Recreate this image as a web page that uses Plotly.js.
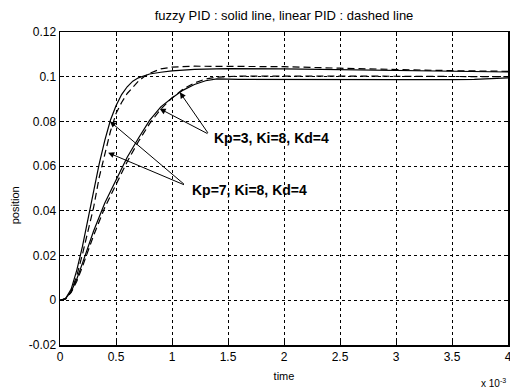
<!DOCTYPE html>
<html>
<head>
<meta charset="utf-8">
<script src="https://cdn.plot.ly/plotly-3.0.1.min.js"></script>
<style>html,body{margin:0;padding:0;background:#fff;}#chart{width:510px;height:390px;}</style>
</head>
<body>
<div id="chart"></div>
<script>
// time in units of 1e-3 s
const fastSolidT = [0, 0.05, 0.1, 0.15, 0.2, 0.25, 0.3, 0.35, 0.4, 0.45, 0.5, 0.55, 0.6, 0.65, 0.7, 0.75, 0.8, 0.9, 1.0, 1.2, 1.5, 2.0, 2.5, 3.0, 3.5, 4.0];
const fastSolidV = [0, 0.0008, 0.005, 0.0135, 0.024, 0.0365, 0.0485, 0.061, 0.0715, 0.0805, 0.087, 0.092, 0.0955, 0.098, 0.0995, 0.1005, 0.1012, 0.102, 0.1026, 0.1033, 0.1036, 0.1035, 0.1032, 0.1028, 0.1024, 0.1021];

const fastDashT = [0, 0.05, 0.1, 0.15, 0.2, 0.25, 0.3, 0.35, 0.4, 0.45, 0.5, 0.55, 0.6, 0.65, 0.7, 0.75, 0.8, 0.9, 1.0, 1.2, 1.5, 2.0, 2.5, 3.0, 3.5, 4.0];
const fastDashV = [0, 0.0006, 0.004, 0.011, 0.0205, 0.031, 0.0415, 0.055, 0.066, 0.0755, 0.0835, 0.0885, 0.0925, 0.0955, 0.098, 0.1, 0.1015, 0.1035, 0.1043, 0.1047, 0.1047, 0.1045, 0.1038, 0.1032, 0.1027, 0.1024];

const slowSolidT = [0, 0.05, 0.1, 0.15, 0.2, 0.3, 0.4, 0.5, 0.6, 0.7, 0.8, 0.9, 1.0, 1.1, 1.2, 1.3, 1.4, 1.6, 2.0, 2.5, 3.0, 3.5, 3.7, 4.0];
const slowSolidV = [0, 0.0008, 0.004, 0.0095, 0.0165, 0.031, 0.0435, 0.054, 0.064, 0.0725, 0.0805, 0.0865, 0.0905, 0.094, 0.0965, 0.0982, 0.099, 0.0988, 0.0987, 0.0987, 0.0987, 0.0987, 0.0988, 0.0995];

const slowDashT = [0, 0.05, 0.1, 0.15, 0.2, 0.3, 0.4, 0.5, 0.6, 0.7, 0.8, 0.9, 1.0, 1.1, 1.2, 1.3, 1.4, 1.6, 2.0, 2.5, 3.0, 3.5, 4.0];
const slowDashV = [0, 0.0006, 0.0035, 0.0085, 0.015, 0.029, 0.0415, 0.052, 0.062, 0.071, 0.079, 0.0855, 0.0905, 0.0945, 0.0972, 0.099, 0.0998, 0.1003, 0.1004, 0.1003, 0.1002, 0.1001, 0.1];

const xTickVals = [0, 0.5, 1, 1.5, 2, 2.5, 3, 3.5, 4];
const xTickText = ['0', '0.5', '1', '1.5', '2', '2.5', '3', '3.5', '4'];
const yTickVals = [-0.02, 0, 0.02, 0.04, 0.06, 0.08, 0.1, 0.12];
const yTickText = ['-0.02', '0', '0.02', '0.04', '0.06', '0.08', '0.1', '0.12'];

const labelKp3 = 'Kp=3, Ki=8, Kd=4';
const labelKp7 = 'Kp=7, Ki=8, Kd=4';

const FONT = 'Liberation Sans, Arial, Helvetica, sans-serif';
const solid = {color: '#000', width: 1.2};
const dashed = {color: '#000', width: 1.2, dash: '7px,4px'};

const traces = [
  {x: fastSolidT, y: fastSolidV, mode: 'lines', line: solid},
  {x: fastDashT, y: fastDashV, mode: 'lines', line: dashed},
  {x: slowSolidT, y: slowSolidV, mode: 'lines', line: solid},
  {x: slowDashT, y: slowDashV, mode: 'lines', line: dashed}
];

function arrow(tipX, tipY, tailX, tailY) {
  return {x: tipX, y: tipY, ax: tailX, ay: tailY, xref: 'x', yref: 'y', axref: 'x', ayref: 'y',
    text: '', showarrow: true, arrowhead: 2, arrowsize: 1.2, arrowwidth: 1, arrowcolor: '#000', standoff: 0, startstandoff: 0};
}

const annotations = [
  arrow(1.07, 0.093, 1.33, 0.0742),
  arrow(0.89, 0.0857, 1.33, 0.0742),
  arrow(0.446, 0.080, 1.12, 0.0514),
  arrow(0.43, 0.066, 1.12, 0.0514),
  {x: 1.36, y: 0.0725, xref: 'x', yref: 'y', text: '<b>' + labelKp3 + '</b>', showarrow: false,
   xanchor: 'left', yanchor: 'middle', font: {family: FONT, size: 14, color: '#000'}},
  {x: 1.16, y: 0.0494, xref: 'x', yref: 'y', text: '<b>' + labelKp7 + '</b>', showarrow: false,
   xanchor: 'left', yanchor: 'middle', font: {family: FONT, size: 14, color: '#000'}},
  {x: 1.0, y: -0.122, xref: 'paper', yref: 'paper', text: 'x 10<sup>-3</sup>', showarrow: false,
   xanchor: 'right', yanchor: 'middle', font: {family: FONT, size: 10, color: '#000'}},
  {x: -0.1, y: 0.447, xref: 'paper', yref: 'paper', text: 'position', textangle: -90, showarrow: false,
   xanchor: 'center', yanchor: 'middle', font: {family: FONT, size: 11, color: '#000'}}
];

const layout = {
  width: 510, height: 390,
  margin: {l: 60, r: 2, t: 32, b: 45},
  paper_bgcolor: '#fff', plot_bgcolor: '#fff',
  showlegend: false,
  font: {family: FONT, size: 11, color: '#000'},
  title: {text: 'fuzzy PID : solid line, linear PID : dashed line', x: 0.5, xref: 'paper', xanchor: 'center',
          y: 1 - 15/390, yref: 'container', yanchor: 'middle', font: {family: FONT, size: 13, color: '#000'}},
  xaxis: {
    range: [0, 4], tickvals: xTickVals, ticktext: xTickText,
    showgrid: true, gridcolor: '#000', gridwidth: 1, griddash: '3px,3px',
    showline: true, linecolor: '#000', linewidth: 1.5, mirror: 'ticks',
    ticks: 'inside', ticklen: 4, tickcolor: '#000', zeroline: false,
    ticklabeloverflow: 'allow',
    tickfont: {family: FONT, size: 12, color: '#000'},
    title: {text: 'time', font: {family: FONT, size: 11, color: '#000'}, standoff: 9}
  },
  yaxis: {
    range: [-0.02, 0.12], tickvals: yTickVals, ticktext: yTickText,
    showgrid: true, gridcolor: '#000', gridwidth: 1, griddash: '3px,3px',
    showline: true, linecolor: '#000', linewidth: 1.5, mirror: 'ticks',
    ticks: 'inside', ticklen: 4, tickcolor: '#000', zeroline: false,
    tickfont: {family: FONT, size: 12, color: '#000'}
  },
  annotations: annotations
};

Plotly.newPlot('chart', traces, layout, {staticPlot: true, displayModeBar: false});
</script>
</body>
</html>
